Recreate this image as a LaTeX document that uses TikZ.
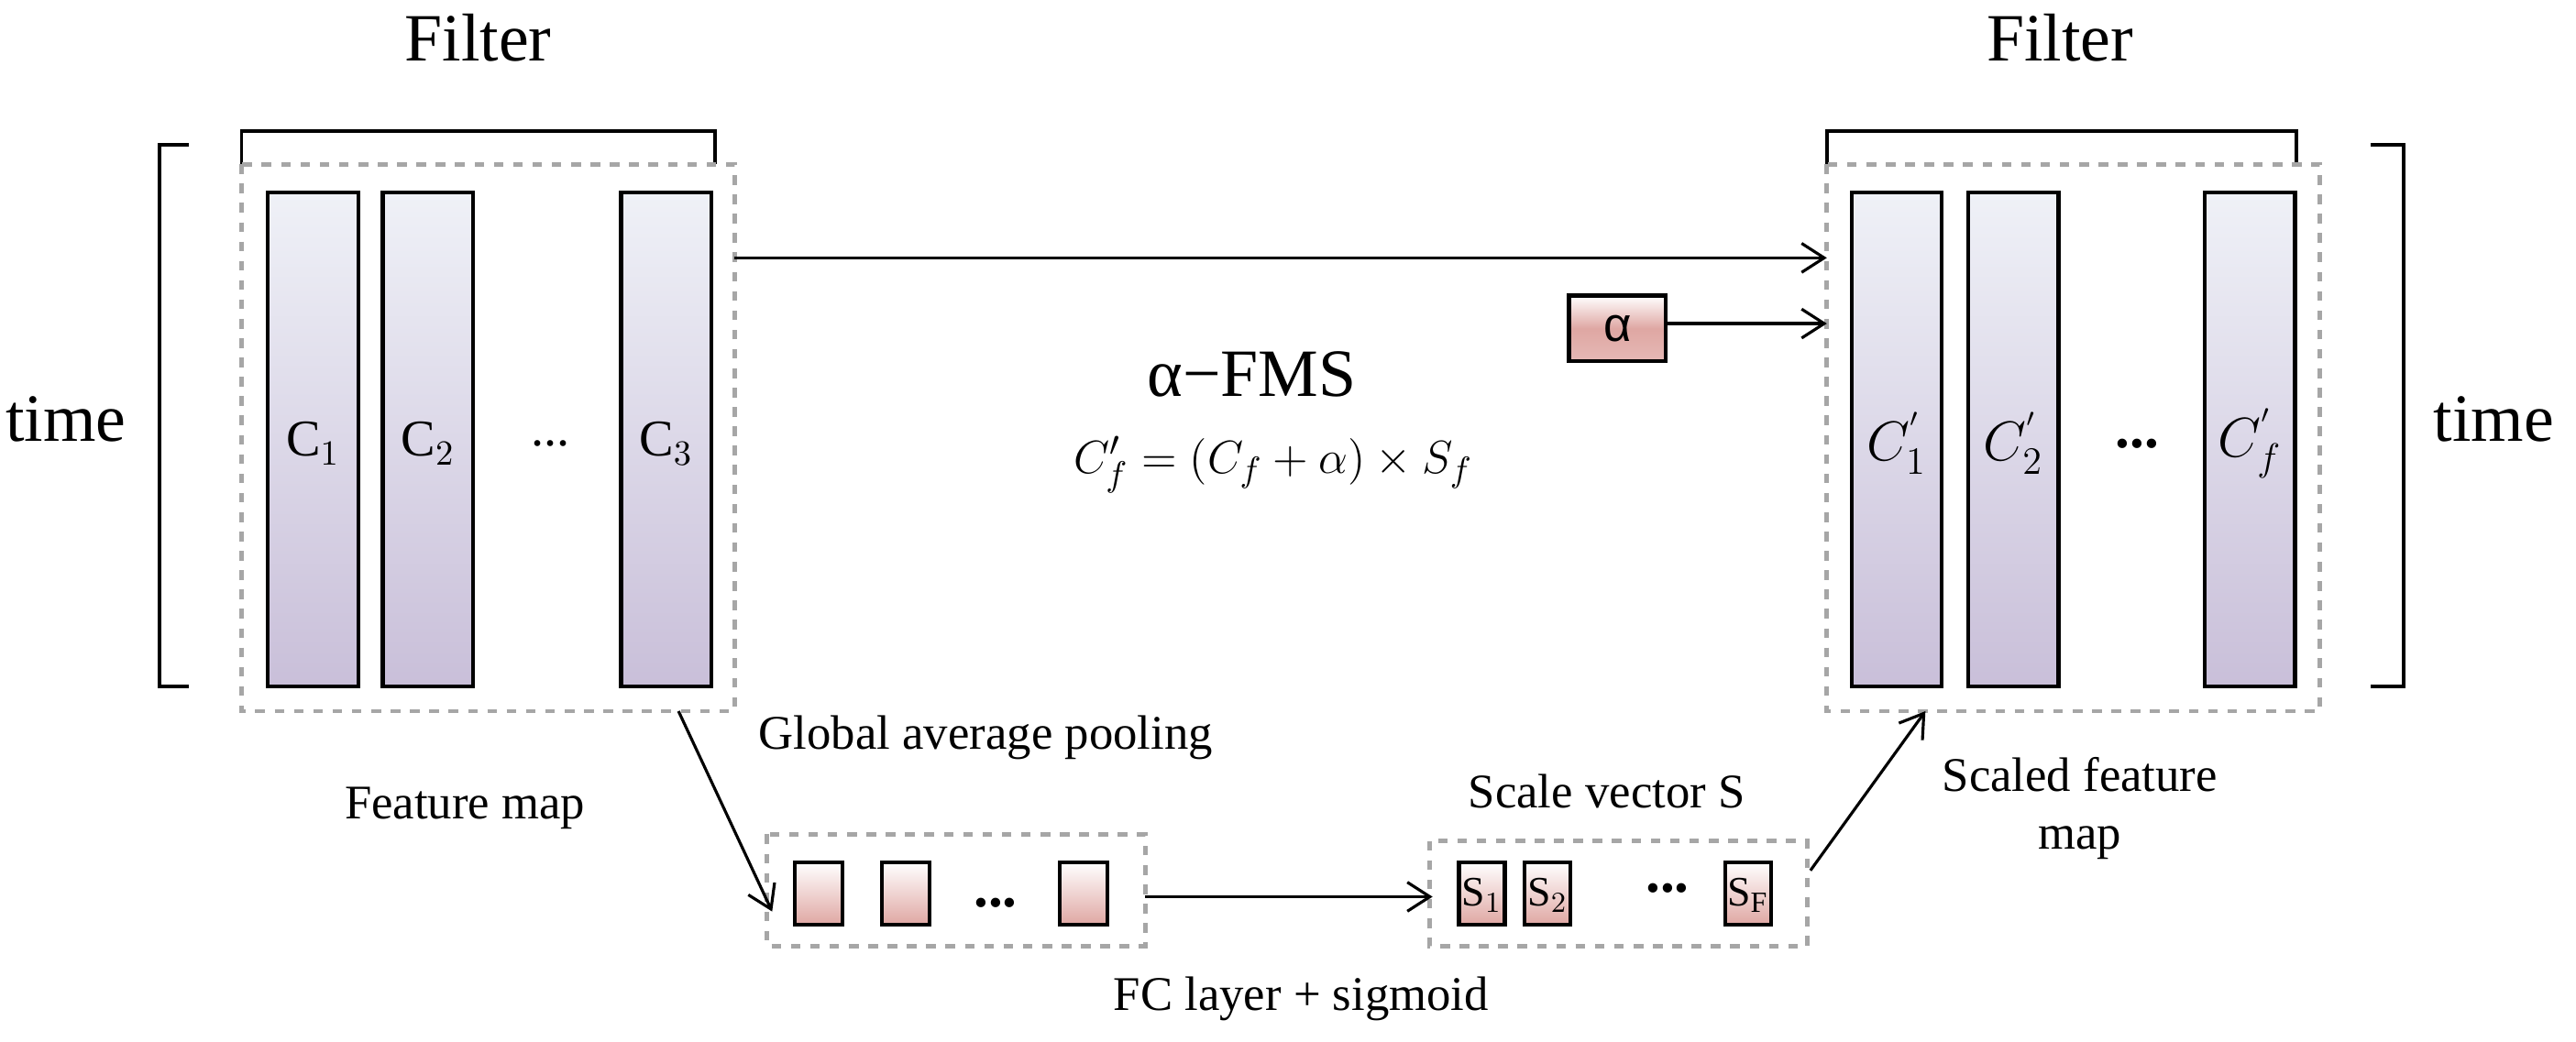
\documentclass[tikz,border=0pt]{standalone}
\usepackage{fontspec}
\setmainfont{Liberation Serif}
\newfontfamily\sansf{Liberation Sans}
\begin{document}
\begin{tikzpicture}[x=0.01792cm,y=-0.01792cm,
 bar/.style={draw,line width=1.2pt,top color=barTop,bottom color=barBot},
 pbox/.style={draw,line width=1.2pt,top color=white,bottom color=pinkBot},
 dbox/.style={draw=gray!70,dashed,line width=1.4pt},
 arr/.style={->,>={Straight Barb[length=7pt,width=9pt]},line width=0.9pt},
 brk/.style={line width=1.1pt}]
\usetikzlibrary{arrows.meta}
\definecolor{barTop}{HTML}{EFF1F7}
\definecolor{barBot}{HTML}{C9BFD9}
\definecolor{pinkBot}{HTML}{DFA7A3}
\useasboundingbox (0,0) rectangle (1568,634);
% left
\draw[brk] (115,88) -- (97,88) -- (97,418) -- (115,418);
\draw[brk] (147,100) -- (147,80) -- (435,80) -- (435,100);
\node[font=\fontsize{21}{24}\selectfont] (f1) at (291,23) {Filter};
\node[font=\fontsize{21}{24}\selectfont] (t1) at (40,255) {time};
\draw[dbox] (147,100) rectangle (447,433);
\coordinate (lb) at (413,433);
\path[bar] (163,117) rectangle (218,418);
\path[bar] (233,117) rectangle (288,418);
\path[bar] (378,117) rectangle (433,418);
\node[font=\fontsize{16}{18}\selectfont] at (190.5,270) {C$_1$};
\node[font=\fontsize{16}{18}\selectfont] at (260.5,270) {C$_2$};
\node[font=\fontsize{16}{18}\selectfont] at (335,270) {...};
\node[font=\fontsize{16}{18}\selectfont] at (405.5,270) {C$_3$};
\node[font=\fontsize{15}{18}\selectfont] (fm) at (283,492) {Feature map};
\node[font=\fontsize{15}{18}\selectfont] (gap) at (600,449) {Global average pooling};
% bottom boxes
\draw[dbox] (467,508) rectangle (697,576);
\path[pbox] (484,525) rectangle (513,563);
\path[pbox] (537,525) rectangle (566,563);
\path[pbox] (645,525) rectangle (674,563);
\node[font=\fontsize{18}{20}\selectfont\bfseries] at (606,550) {...};
\draw[dbox] (870,512) rectangle (1100,576);
\path[pbox] (888,525) rectangle (916,563);
\path[pbox] (928,525) rectangle (956,563);
\path[pbox] (1050,525) rectangle (1078,563);
\node[font=\fontsize{13}{16}\selectfont] at (902,545) {S$_1$};
\node[font=\fontsize{13}{16}\selectfont] at (942,545) {S$_2$};
\node[font=\fontsize{18}{20}\selectfont\bfseries] at (1015,541) {...};
\node[font=\fontsize{13}{16}\selectfont] at (1064,545) {S$_{\mathrm F}$};
\node[font=\fontsize{15}{18}\selectfont] (sv) at (978,482) {Scale vector S};
\node[font=\fontsize{15}{18}\selectfont] (fc) at (792,608) {FC layer + sigmoid};
% right
\draw[brk] (1443,88) -- (1463,88) -- (1463,418) -- (1443,418);
\draw[brk] (1112,100) -- (1112,80) -- (1398,80) -- (1398,100);
\node[font=\fontsize{21}{24}\selectfont] (f2) at (1254,23) {Filter};
\node[font=\fontsize{21}{24}\selectfont] (t2) at (1518,255) {time};
\draw[dbox] (1112,100) rectangle (1412,433);
\path[bar] (1127,117) rectangle (1182,418);
\path[bar] (1198,117) rectangle (1253,418);
\path[bar] (1342,117) rectangle (1397,418);
\node[font=\fontsize{17}{18}\selectfont] at (1154.5,270) {$C_1^{'}$};
\node[font=\fontsize{17}{18}\selectfont] at (1225.5,270) {$C_2^{'}$};
\node[font=\fontsize{18}{20}\selectfont\bfseries] at (1301,270) {...};
\node[font=\fontsize{17}{18}\selectfont] at (1369.5,270) {$C_f^{'}$};
\node[font=\fontsize{15}{18}\selectfont,align=center] (sfm) at (1266,492) {Scaled feature\\map};
% alpha
\path[draw,line width=1.2pt,top color=white,bottom color=pinkBot!80,middle color=pinkBot] (955,180) rectangle (1014,220);
\node[font=\sansf\fontsize{15}{18}\selectfont] at (984.5,200) {α};
\node[font=\fontsize{21}{24}\selectfont] (fms) at (762,228) {α−FMS};
\node[font=\fontsize{15}{18}\selectfont] (eq) at (775,283) {$C_f' = (C_f + \alpha)\times S_f$};
% connectors
\coordinate (a1) at (447,157); \coordinate (a2) at (1112,157);
\draw[arr] (a1) -- (a2);
\coordinate (b1) at (1014,197); \coordinate (b2) at (1112,197);
\draw[arr] (b1) -- (b2);
\coordinate (c2) at (470,555);
\draw[arr] (lb) -- (c2);
\coordinate (d1) at (697,546); \coordinate (d2) at (872,546);
\draw[arr] (d1) -- (d2);
\coordinate (e1) at (1102,530); \coordinate (e2) at (1172,433);
\draw[arr] (e1) -- (e2);
\end{tikzpicture}
\end{document}
